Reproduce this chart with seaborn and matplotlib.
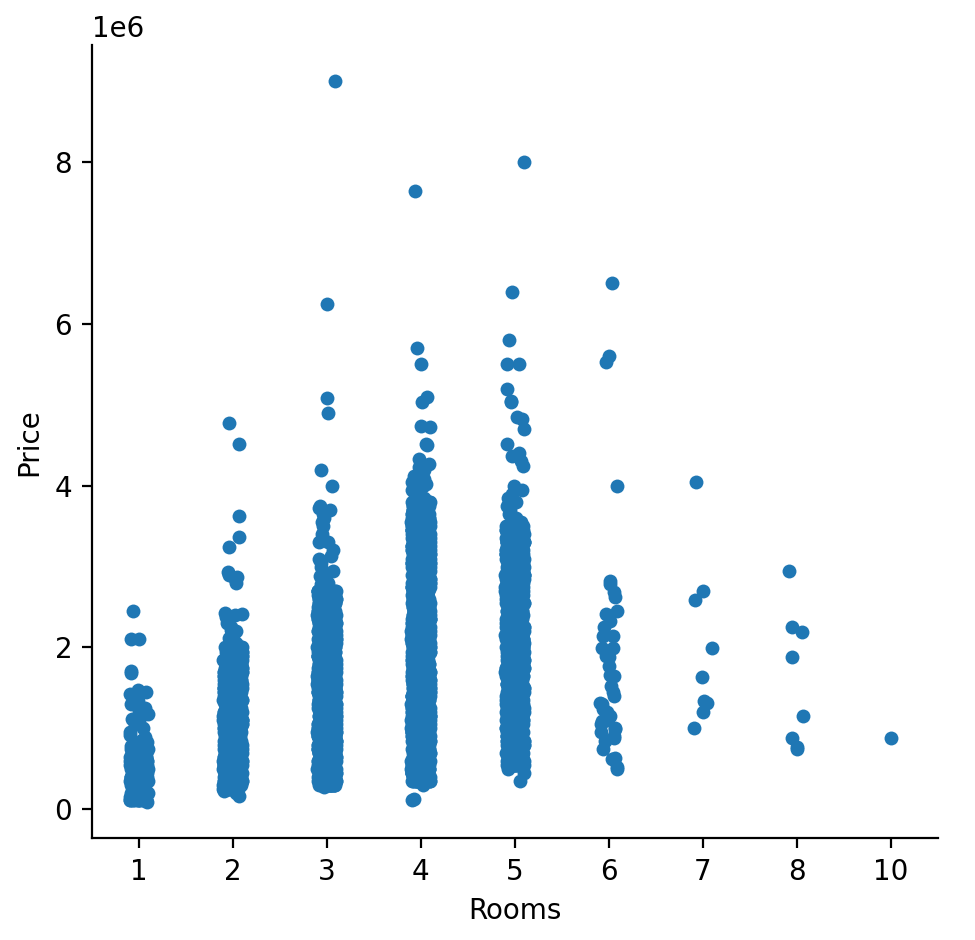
import numpy as np
import pandas as pd
import matplotlib
matplotlib.use("Agg")
import matplotlib.pyplot as plt
import seaborn as sns

# harga dalam juta, nanti dikali 1e6
# kolom padat: level harga + berapa kali muncul
r1_dense = [0.12, 0.15, 0.2, 0.25, 0.3, 0.35, 0.4, 0.45, 0.5, 0.55, 0.6, 0.65, 0.7,
            0.75, 0.78]
r1_count = 12
r1_other = [0.085, 0.12, 0.8, 0.83, 0.86, 0.89, 0.92, 0.95, 1.0, 1.05, 1.09, 1.12,
            1.18, 1.21, 1.25, 1.3, 1.34, 1.42, 1.45, 1.48, 1.69, 1.71, 2.1, 2.11, 2.45]

r2_dense = [0.25, 0.3, 0.35, 0.4, 0.45, 0.5, 0.55, 0.6, 0.65, 0.7, 0.75, 0.8, 0.85,
            0.9, 0.95, 1.0, 1.05, 1.1, 1.15, 1.2, 1.25, 1.3, 1.35, 1.4, 1.45, 1.5,
            1.55, 1.6, 1.65, 1.7, 1.75, 1.8, 1.85, 1.9, 1.95, 2.0]
r2_count = 20
r2_other = [0.16, 0.2, 0.22, 2.05, 2.08, 2.12, 2.15, 2.2, 2.22, 2.25, 2.3, 2.38, 2.4,
            2.42, 2.43, 2.8, 2.85, 2.87, 2.9, 2.93, 3.24, 3.36, 3.62, 4.52, 4.78]

r3_dense = [0.3, 0.35, 0.4, 0.45, 0.5, 0.55, 0.6, 0.65, 0.7, 0.75, 0.8, 0.85, 0.9,
            0.95, 1.0, 1.05, 1.1, 1.15, 1.2, 1.25, 1.3, 1.35, 1.4, 1.45, 1.5, 1.55,
            1.6, 1.65, 1.7, 1.75, 1.8, 1.85, 1.9, 1.95, 2.0, 2.05, 2.1, 2.15, 2.2,
            2.25, 2.3, 2.35, 2.4, 2.45, 2.5, 2.55, 2.6, 2.65, 2.7]
r3_count = 24
r3_other = [0.28, 2.75, 2.78, 2.8, 2.85, 2.88, 2.9, 2.95, 3.0, 3.05, 3.1, 3.13, 3.2,
            3.3, 3.3, 3.4, 3.5, 3.55, 3.6, 3.65, 3.7, 3.73, 3.75, 3.99, 4.19, 4.9,
            5.09, 6.24, 9.0]

r4_dense = [0.35, 0.4, 0.45, 0.5, 0.55, 0.6, 0.65, 0.7, 0.75, 0.8, 0.85, 0.9, 0.95,
            1.0, 1.05, 1.1, 1.15, 1.2, 1.25, 1.3, 1.35, 1.4, 1.45, 1.5, 1.55, 1.6,
            1.65, 1.7, 1.75, 1.8, 1.85, 1.9, 1.95, 2.0, 2.05, 2.1, 2.15, 2.2, 2.25,
            2.3, 2.35, 2.4, 2.45, 2.5, 2.55, 2.6, 2.65, 2.7, 2.75, 2.8, 2.85, 2.9,
            2.95, 3.0, 3.05, 3.1, 3.15, 3.2, 3.25, 3.3, 3.35, 3.4, 3.45, 3.5, 3.55,
            3.6, 3.65, 3.7, 3.75, 3.8]
r4_count = 20
r4_other = [0.12, 0.13, 0.3, 3.85, 3.9, 3.95, 4.0, 4.02, 4.05, 4.08, 4.12, 4.15, 4.2,
            4.23, 4.27, 4.33, 4.5, 4.52, 4.73, 4.74, 5.03, 5.1, 5.5, 5.7, 7.64]

r5_dense = [0.55, 0.6, 0.65, 0.7, 0.75, 0.8, 0.85, 0.9, 0.95, 1.0, 1.05, 1.1, 1.15,
            1.2, 1.25, 1.3, 1.35, 1.4, 1.45, 1.5, 1.55, 1.6, 1.65, 1.7, 1.75, 1.8,
            1.85, 1.9, 1.95, 2.0, 2.05, 2.1, 2.15, 2.2, 2.25, 2.3, 2.35, 2.4, 2.45,
            2.5, 2.55, 2.6, 2.65, 2.7, 2.75, 2.8, 2.85, 2.9, 2.95, 3.0, 3.05, 3.1,
            3.15, 3.2, 3.25, 3.3, 3.35, 3.4, 3.45, 3.5]
r5_count = 14
r5_other = [0.35, 0.45, 0.5, 3.55, 3.6, 3.65, 3.7, 3.75, 3.8, 3.85, 3.9, 3.95, 4.0,
            4.24, 4.3, 4.37, 4.41, 4.51, 4.7, 4.82, 4.85, 5.04, 5.05, 5.19, 5.5, 5.5,
            5.8, 6.39, 8.0]

r6_prices = [0.5, 0.52, 0.62, 0.64, 0.74, 0.84, 0.88, 0.9, 0.95, 0.99, 1.0, 1.05,
             1.09, 1.1, 1.12, 1.15, 1.2, 1.24, 1.3, 1.32, 1.4, 1.45, 1.52, 1.65, 1.66,
             1.77, 1.88, 1.9, 1.99, 1.99, 2.14, 2.14, 2.25, 2.33, 2.42, 2.45, 2.62,
             2.69, 2.79, 2.82, 4.0, 5.53, 5.6, 6.5]
r7_prices = [1.0, 1.2, 1.32, 1.34, 1.63, 1.99, 2.59, 2.7, 4.05]
r8_prices = [0.74, 0.77, 0.88, 1.15, 1.88, 2.19, 2.25, 2.94]
r10_prices = [0.88]

per_room = {
    1: list(np.repeat(r1_dense, r1_count)) + r1_other,
    2: list(np.repeat(r2_dense, r2_count)) + r2_other,
    3: list(np.repeat(r3_dense, r3_count)) + r3_other,
    4: list(np.repeat(r4_dense, r4_count)) + r4_other,
    5: list(np.repeat(r5_dense, r5_count)) + r5_other,
    6: r6_prices,
    7: r7_prices,
    8: r8_prices,
    10: r10_prices,
}

rows = []
for rooms, prices in per_room.items():
    for p in prices:
        rows.append({'Rooms': rooms, 'Price': p * 1e6})
df = pd.DataFrame(rows)

np.random.seed(3)  # jitter stripplot
g = sns.catplot(data=df, x='Rooms', y='Price', linewidth=0)
g.figure.set_size_inches(4.875, 4.7)
g.figure.subplots_adjust(left=0.094, right=0.962, bottom=0.108, top=0.952)

g.figure.savefig('out.png', dpi=200)
